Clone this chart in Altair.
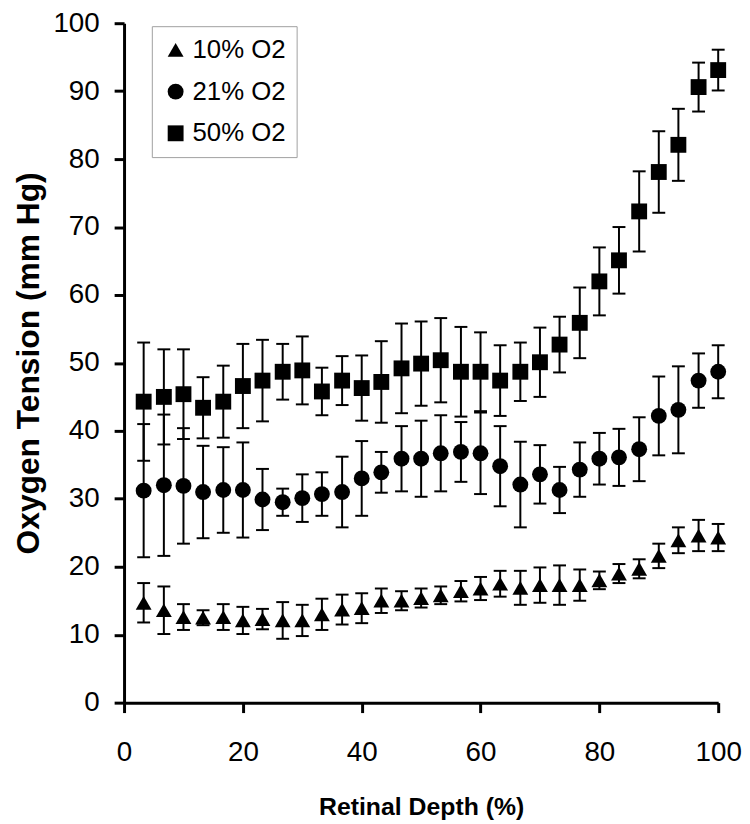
import altair as alt
import pandas as pd

depth = [3.3, 6.7, 10, 13.3, 16.7, 20, 23.3, 26.7, 30, 33.3,
         36.7, 40, 43.3, 46.7, 50, 53.3, 56.7, 60, 63.3, 66.7,
         70, 73.3, 76.7, 80, 83.3, 86.7, 90, 93.3, 96.7, 100]

series_names = ["10% O2", "21% O2", "50% O2"]

o2_10 = [14.7, 13.6, 12.6, 12.5, 12.6, 12.1, 12.3, 12.1, 12.1, 13.0,
         13.7, 13.9, 15.0, 15.0, 15.4, 15.8, 16.4, 16.8, 17.5, 16.9,
         17.3, 17.3, 17.3, 18.0, 19.0, 19.7, 21.6, 23.9, 24.6, 24.3]
err_10 = [2.9, 3.5, 1.9, 1.1, 1.9, 2.0, 1.5, 2.7, 2.3, 2.3,
          2.2, 2.2, 1.8, 1.4, 1.4, 1.3, 1.5, 1.7, 1.9, 2.5,
          2.6, 2.9, 2.3, 1.3, 1.4, 1.4, 1.8, 1.9, 2.3, 2.0]

o2_21 = [31.2, 32.0, 31.9, 31.0, 31.3, 31.3, 29.9, 29.5, 30.1, 30.7,
         31.0, 33.0, 33.9, 35.9, 35.9, 36.7, 36.9, 36.7, 34.8, 32.1,
         33.6, 31.3, 34.3, 35.9, 36.1, 37.3, 42.2, 43.1, 47.4, 48.7]
err_21 = [9.8, 10.4, 8.5, 6.8, 6.3, 7.0, 4.5, 2.0, 3.5, 3.2,
          5.2, 5.5, 3.0, 4.8, 5.6, 5.6, 4.4, 6.0, 5.9, 6.3,
          4.3, 3.4, 4.0, 3.8, 4.2, 4.7, 5.8, 6.4, 4.0, 3.9]

o2_50 = [44.3, 45.0, 45.4, 43.4, 44.3, 46.6, 47.4, 48.7, 48.9, 45.8,
         47.4, 46.3, 47.2, 49.2, 49.9, 50.4, 48.7, 48.7, 47.4, 48.7,
         50.1, 52.7, 55.9, 62.0, 65.1, 72.3, 78.1, 82.1, 90.6, 93.1]
err_50 = [8.7, 7.0, 6.6, 4.5, 5.3, 6.2, 6.0, 4.1, 5.0, 3.5,
          3.6, 4.8, 6.0, 6.6, 6.2, 6.2, 6.6, 5.8, 5.2, 4.3,
          5.1, 4.1, 5.2, 5.0, 4.9, 5.9, 6.0, 5.3, 3.6, 3.0]

x_ticks = [0, 20, 40, 60, 80, 100]
y_ticks = [0, 10, 20, 30, 40, 50, 60, 70, 80, 90, 100]

rows = []
for name, means, errs in zip(series_names, [o2_10, o2_21, o2_50], [err_10, err_21, err_50]):
    for d, m, e in zip(depth, means, errs):
        rows.append({"series": name, "depth": d, "mean": m, "lo": m - e, "hi": m + e})
df = pd.DataFrame(rows)

FONT = "Liberation Sans"
X_TITLE = "Retinal Depth (%)"
Y_TITLE = "Oxygen Tension  (mm Hg)"

x_axis = alt.Axis(values=x_ticks, title=X_TITLE, labelFlush=False, labelPadding=26,
                  titlePadding=29, titleFontSize=25)
y_axis = alt.Axis(values=y_ticks, title=Y_TITLE, labelPadding=15, titlePadding=8,
                  titleFontSize=32)


def xenc():
    return alt.X("depth:Q", scale=alt.Scale(domain=[0, 100], nice=False), axis=x_axis)


def yenc(field):
    return alt.Y(f"{field}:Q", scale=alt.Scale(domain=[0, 100], nice=False), axis=y_axis)


base = alt.Chart(df)

rules = base.mark_rule(color="black", strokeWidth=2).encode(
    x=xenc(), y=yenc("lo"), y2="hi:Q")
caps_hi = base.mark_tick(color="black", orient="horizontal", size=13, thickness=2, opacity=1).encode(
    x=xenc(), y=yenc("hi"))
caps_lo = base.mark_tick(color="black", orient="horizontal", size=13, thickness=2, opacity=1).encode(
    x=xenc(), y=yenc("lo"))
points = base.mark_point(filled=True, color="black", opacity=1, size=256, strokeWidth=0).encode(
    x=xenc(), y=yenc("mean"),
    shape=alt.Shape("series:N",
                    scale=alt.Scale(domain=series_names, range=["triangle-up", "circle", "square"]),
                    legend=alt.Legend(title=None, orient="none", legendX=28, legendY=3,
                                      strokeColor="#a0a0a0", fillColor="white", padding=11,
                                      rowPadding=16, labelFontSize=26, labelFont=FONT,
                                      labelColor="black", symbolSize=256, labelOffset=4,
                                      symbolFillColor="black", symbolStrokeWidth=0,
                                      cornerRadius=0)))

chart = alt.layer(rules, caps_hi, caps_lo, points).properties(
    width=599, height=685,
    autosize=alt.AutoSizeParams(type="none"),
    padding={"left": 117, "top": 12, "right": 24, "bottom": 118},
).configure_view(stroke=None).configure_axis(
    domainColor="black", domainWidth=3, tickColor="black", tickWidth=3, tickSize=10,
    labelFont=FONT, labelFontSize=28, labelColor="black", titleFont=FONT,
    titleFontWeight="bold", titleColor="black", grid=False,
)

chart.save("out.html", embed_options={"renderer": "svg", "actions": False})
